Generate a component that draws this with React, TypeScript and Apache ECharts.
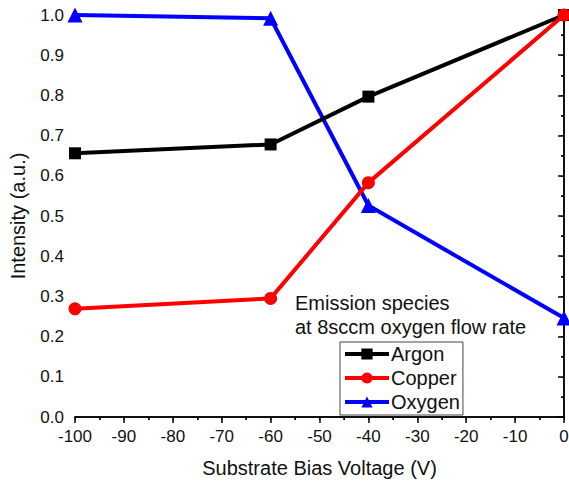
import React, { useEffect, useRef } from "react";
import * as echarts from "echarts";

const voltages = [-100, -60, -40, 0];
const argon = [0.656, 0.678, 0.797, 1.0];
const copper = [0.269, 0.295, 0.583, 1.0];
const oxygen = [1.0, 0.992, 0.526, 0.246];
const seriesNames = ["Argon", "Copper", "Oxygen"];
const annotationLines = ["Emission species", "at 8sccm oxygen flow rate"];

const FONT = "Liberation Sans, Arial, sans-serif";

export default function App() {
  const ref = useRef<HTMLDivElement>(null);
  useEffect(() => {
    if (!ref.current) return;
    const chart = echarts.init(ref.current, undefined, { renderer: "svg" });
    const pair = (ys: number[]) => voltages.map((x, i) => [x, ys[i]]);
    const axisCommon = {
      type: "value" as const,
      axisLine: { show: true, lineStyle: { color: "#000", width: 1.5 } },
      splitLine: { show: false },
    };
    chart.setOption({
      animation: false,
      backgroundColor: "#fff",
      textStyle: { fontFamily: FONT },
      grid: { left: 75, right: 5, top: 15, bottom: 66, containLabel: false, outerBoundsMode: "none" },
      xAxis: [
        {
          ...axisCommon,
          position: "bottom",
          min: -100,
          max: 0,
          interval: 10,
          name: "Substrate Bias Voltage (V)",
          nameLocation: "middle",
          nameGap: 41,
          nameTextStyle: { fontSize: 20, color: "#111", fontFamily: FONT },
          axisTick: { show: true, inside: false, length: 6, lineStyle: { color: "#000", width: 1.5 } },
          minorTick: { show: true, splitNumber: 2, length: 3, lineStyle: { color: "#000", width: 1.5 } },
          axisLabel: { fontSize: 17, color: "#111", margin: 11, fontFamily: FONT },
        },
        {
          ...axisCommon,
          position: "top",
          min: -100,
          max: 0,
          interval: 10,
          axisTick: { show: true, inside: true, length: 3, lineStyle: { color: "#000", width: 1 } },
          minorTick: { show: true, splitNumber: 2, length: 3, lineStyle: { color: "#000", width: 1 } },
          axisLabel: { show: false },
        },
      ],
      yAxis: [
        {
          ...axisCommon,
          position: "left",
          min: 0,
          max: 1,
          interval: 0.1,
          name: "Intensity (a.u.)",
          nameLocation: "middle",
          nameGap: 47,
          nameTextStyle: { fontSize: 20, color: "#111", fontFamily: FONT },
          axisTick: { show: true, inside: false, length: 6, lineStyle: { color: "#000", width: 1.5 } },
          minorTick: { show: true, splitNumber: 2, length: 3, lineStyle: { color: "#000", width: 1.5 } },
          axisLabel: {
            fontSize: 17,
            color: "#111",
            margin: 11,
            fontFamily: FONT,
            formatter: (v: number) => v.toFixed(1),
          },
        },
        {
          ...axisCommon,
          position: "right",
          min: 0,
          max: 1,
          interval: 0.1,
          axisTick: { show: true, inside: true, length: 3, lineStyle: { color: "#000", width: 1 } },
          minorTick: { show: true, splitNumber: 2, length: 3, lineStyle: { color: "#000", width: 1 } },
          axisLabel: { show: false },
        },
      ],
      legend: {
        orient: "vertical",
        left: 340,
        top: 342,
        data: seriesNames,
        itemWidth: 44,
        itemHeight: 14,
        itemGap: 4,
        padding: [2, 3, 3, 3],
        borderColor: "#444",
        borderWidth: 1,
        borderRadius: 0,
        lineStyle: { width: 4 },
        textStyle: { fontSize: 20, color: "#111", fontFamily: FONT, padding: [0, 0, 0, -3] },
      },
      graphic: [
        {
          type: "text",
          left: 295,
          top: 291,
          style: {
            text: annotationLines.join("\n"),
            fontSize: 20,
            lineHeight: 24,
            fill: "#111",
            fontFamily: FONT,
          },
        },
      ],
      series: [
        {
          name: seriesNames[0],
          type: "line",
          data: pair(argon),
          color: "#000",
          lineStyle: { width: 4, color: "#000" },
          symbol: "rect",
          symbolSize: 12,
          itemStyle: { color: "#000" },
          z: 3,
        },
        {
          name: seriesNames[1],
          type: "line",
          data: pair(copper),
          color: "#ff0000",
          lineStyle: { width: 4, color: "#ff0000" },
          symbol: "circle",
          symbolSize: 13,
          itemStyle: { color: "#ff0000" },
          z: 4,
        },
        {
          name: seriesNames[2],
          type: "line",
          data: pair(oxygen),
          color: "#0000ff",
          lineStyle: { width: 4, color: "#0000ff" },
          symbol: "triangle",
          symbolSize: 15,
          itemStyle: { color: "#0000ff" },
          z: 2,
        },
      ],
    });
    return () => chart.dispose();
  }, []);
  return <div ref={ref} style={{ width: 569, height: 483, position: "absolute", left: 0, top: 0 }} />;
}
